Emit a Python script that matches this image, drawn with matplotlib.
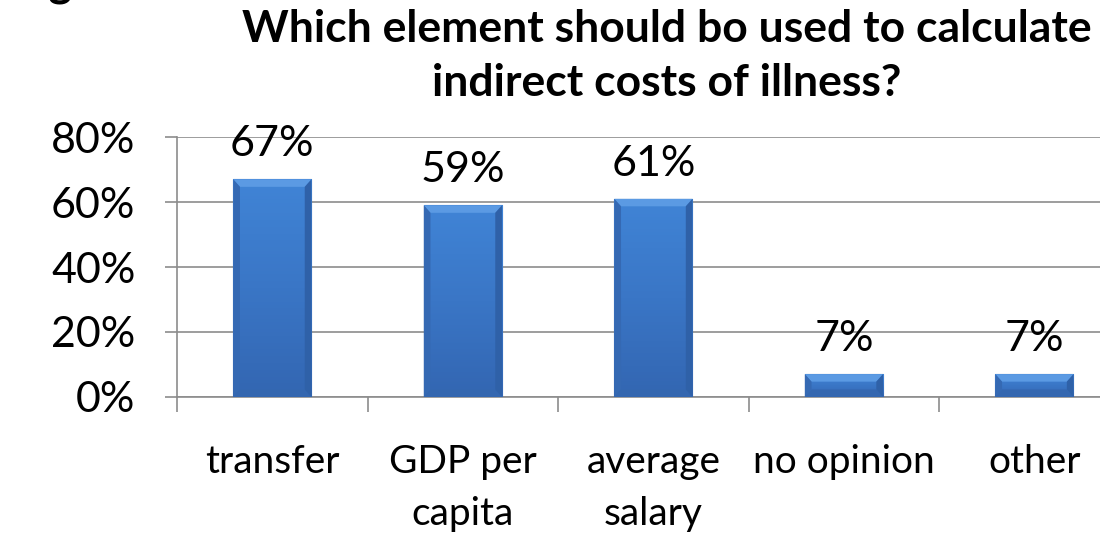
import numpy as np
import matplotlib.pyplot as plt
from matplotlib.colors import LinearSegmentedColormap
from matplotlib.patches import Polygon

plt.rcParams['font.family'] = ['Lato', 'DejaVu Sans']

categories = ["transfer", "GDP per\ncapita", "average\nsalary", "no opinion", "other"]
values = [67, 59, 61, 7, 7]
yticks = [0, 20, 40, 60, 80]

fig = plt.figure(figsize=(11, 5.4), dpi=100)
ax = fig.add_axes([0.161, 0.265, 0.866, 0.481])

x = np.arange(len(categories))
bars = ax.bar(x, values, width=0.41, color="#3b78c8", edgecolor="#2a5a96", linewidth=0.8, zorder=3)

ax.set_xlim(-0.5, len(categories) - 0.5)
ax.set_ylim(0, 80)

# vertical shading plus bevelled edges on each bar
cmap = LinearSegmentedColormap.from_list("bar", ["#3366b2", "#3a76c6", "#4084d6"])
grad = np.linspace(0, 1, 64).reshape(-1, 1)
bx, by = 0.035, 2.3  # bevel size in data units
for b in bars:
    x0, y0 = b.get_x(), b.get_y()
    x1, y1 = x0 + b.get_width(), y0 + b.get_height()
    im = ax.imshow(grad, cmap=cmap, aspect="auto", origin="lower", zorder=3.5,
                   extent=[x0, x1, y0, y1])
    im.set_clip_path(b)
    ax.add_patch(Polygon([(x0, y1), (x1, y1), (x1 - bx, y1 - by), (x0 + bx, y1 - by)],
                         closed=True, color="#5b9ae3", lw=0, zorder=4))
    ax.add_patch(Polygon([(x0, y0), (x1, y0), (x1 - bx, y0 + by), (x0 + bx, y0 + by)],
                         closed=True, color="#3467b0", lw=0, zorder=4))
    ax.add_patch(Polygon([(x0, y0), (x0 + bx, y0 + by), (x0 + bx, y1 - by), (x0, y1)],
                         closed=True, color="#3569b3", lw=0, zorder=4))
    ax.add_patch(Polygon([(x1, y0), (x1 - bx, y0 + by), (x1 - bx, y1 - by), (x1, y1)],
                         closed=True, color="#2f61a8", lw=0, zorder=4))
    ax.text((x0 + x1) / 2, y1 + 5, f"{b.get_height():.0f}%",
            ha="center", va="bottom", fontsize=31)

ax.set_yticks(yticks)
ax.set_yticklabels([f"{v}%" for v in yticks], fontsize=31)
ax.yaxis.grid(True, color="#8c8c8c", linewidth=1.2, zorder=0)
ax.set_axisbelow(True)

ax.set_xticks(np.arange(len(categories) + 1) - 0.5)
ax.set_xticklabels([])
ax.set_xticks(x, minor=True)
ax.set_xticklabels(categories, minor=True, fontsize=28, linespacing=1.55)
ax.tick_params(axis="x", which="minor", length=0, pad=34)
ax.tick_params(axis="x", which="major", length=11, color="#8c8c8c", width=1.2)
ax.tick_params(axis="y", length=9, color="#8c8c8c", width=1.2, pad=21)

for side in ["top", "right"]:
    ax.spines[side].set_visible(False)
for side in ["left", "bottom"]:
    ax.spines[side].set_color("#8c8c8c")
    ax.spines[side].set_linewidth(1.2)

fig.text(0.606, 0.896, "Which element should bo used to calculate\nindirect costs of illness?",
         ha="center", va="center", fontsize=32, fontweight="bold", linespacing=1.42)
fig.text(0.066, 1.007, "Fig", ha="right", va="baseline", fontsize=32, fontweight="bold")

fig.savefig("out.png", dpi=100)
